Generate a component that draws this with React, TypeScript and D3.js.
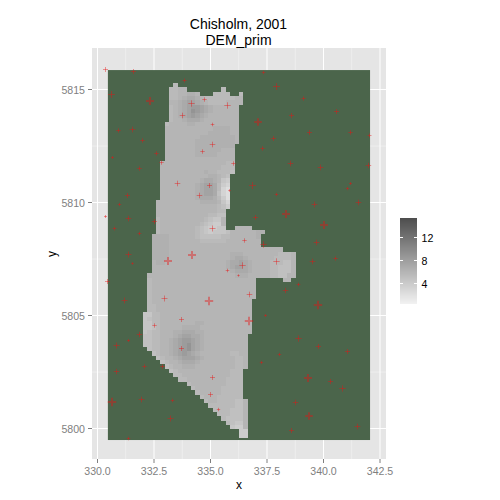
import React from "react";
import * as d3 from "d3";

const titleLines = ["Chisholm, 2001", "DEM_prim"];
const xTicks = [330, 332.5, 335, 337.5, 340, 342.5];
const yTicks = [5800, 5805, 5810, 5815];
const legendTicks = [4, 8, 12];

// raster extent in map units and its grid
const rasterX = [330.46, 342.06];
const rasterY = [5815.86, 5799.49];
const rasterCols = 60;
const rasterRowsCount = 85.5;
const firstRow = 3;
const firstCol = 8;

// [first row, last row, first col, end col] of land cells
const maskRuns = [
  [3, 3, 15, 16], [4, 4, 14, 18], [4, 4, 26, 27], [5, 5, 14, 21], [5, 5, 24, 28], [5, 5, 30, 31],
  [6, 7, 14, 31], [8, 11, 14, 30], [12, 16, 13, 30], [17, 20, 13, 29], [21, 23, 12, 29], [24, 29, 12, 28],
  [30, 31, 11, 28], [32, 35, 11, 27], [36, 36, 11, 27], [36, 36, 29, 33], [37, 37, 11, 36],
  [38, 40, 10, 35], [41, 41, 10, 40], [42, 46, 10, 43], [47, 47, 9, 43], [48, 48, 9, 34], [48, 48, 40, 42],
  [49, 52, 9, 34], [53, 55, 9, 33], [56, 60, 8, 33], [61, 63, 8, 32], [64, 64, 9, 32], [65, 65, 10, 32],
  [66, 66, 11, 32], [67, 67, 12, 32], [68, 68, 13, 32], [69, 69, 14, 31], [70, 70, 15, 31], [71, 71, 16, 31],
  [72, 72, 18, 31], [73, 73, 19, 31], [74, 74, 20, 31], [75, 75, 21, 31], [76, 76, 22, 32], [77, 77, 23, 32],
  [78, 78, 24, 32], [79, 79, 25, 32], [80, 80, 26, 32], [81, 81, 27, 32], [82, 82, 28, 32], [83, 84, 30, 32],
];

// DEM levels, one character per cell, rows from firstRow, columns from firstCol
const levelChars = "0123456789ab";
const levelValues = [2.25, 3.16, 3.88, 4.43, 4.98, 5.52, 5.98, 6.43, 6.98, 7.61, 8.25, 8.98];
const demLevels = [
  "55555555555555555555",
  "5555555566665555555555",
  "55555555667766555555555",
  "55555555678876555555566",
  "55555566789987655556666",
  "55555556789aa987666666655",
  "55555556789ba987666666655",
  "55555556789a98766666666655",
  "55555556678887666666666655",
  "55555566667766666666666655",
  "56666666666666667777666",
  "56666666666666677777666",
  "56666666666667777777766",
  "66666666666677777777766",
  "66666666666677777777766",
  "66666666666677777766655",
  "55666666666677777666655",
  "55666666666666666666655",
  "55566666666666666665555",
  "55566666666666666655555",
  "55566666666666766555444",
  "66666666666666677654",
  "66666666666667887632",
  "66666666666678998521",
  "66666666666678998510",
  "66666666666678998410",
  "66666666666678887520",
  "66666666666667777631",
  "66666666666666666542",
  "6666666666666666655",
  "5566666666666665544",
  "555566666666665433",
  "555566666666654322",
  "555566666666543223366666",
  "5555666666665432333466666677",
  "667777666666544444556666667",
  "667777666666655555566666666",
  "667777666666666666666666666",
  "667777666666666666666666666666666",
  "6677776666666666666677766666666555",
  "6677776666666666666678876666665555",
  "6667766666666666666788987666655544",
  "6666666666666666666789987666655444",
  "6666666666666666666678887666655444",
  "666666666666666666666777666665544",
  "55666666666666666666666666665555",
  "5566666666666666666666666",
  "5566666666666666666666666",
  "5566666666666666666666666",
  "5566666666666666666666666",
  "556666666666666666666666",
  "55566666666666666666666",
  "55566666666666666666666",
  "33556666666666666666666",
  "34556666666666666666666",
  "33556666666677666666666",
  "33456666677776666666666",
  "34556667788877666666666",
  "44556667899887666666666",
  "445566789aa98766666666",
  "445566789ab9876666666",
  "645566789ab98766666666",
  "664566789a987666666655",
  "66645667899987666666655",
  "66664566788876666666655",
  "66666456677766666666655",
  "66666645666666666666555",
  "66666665566666666666555",
  "66666665556666666665555",
  "66666666665666666665555",
  "66666666666566666655555",
  "66666666666656666655555",
  "66666666666665666555555",
  "66666666666666566555544",
  "66666666666666655555544",
  "66666666666666665555444",
  "66666666666666666555444",
  "66666666666666666654444",
  "66666666666666666665433",
  "66666666666666666666322",
  "66666666666666666666662211",
  "66666666666666666666662211",
];

// sample points: easting, northing, marker size
const pointX = [
  330.36, 331.58, 333.86, 330.64, 332.34, 334.17, 334.74, 335.77, 333.75, 337.12, 335.08, 330.94, 331.57, 332.01,
  335.08, 334.66, 332.59, 330.65, 332.85, 336.03, 331.84, 333.53, 334.96, 335.85, 336.87, 331.34, 334.52, 330.96,
  330.35, 331.38, 332.51, 336.98, 335.07, 330.74, 337.34, 337.91, 339.12, 338.59, 340.57, 339.39, 337.77, 341.2,
  342.05, 337.28, 338.52, 339.85, 341.98, 341.19, 341.04, 337.91, 339.58, 341.54, 338.33, 340.02, 331.84, 336.5,
  331.39, 331.54, 333.13, 334.17, 336.41, 335.74, 336.23, 330.45, 332.96, 331.19, 334.93, 336.72, 333.71, 332.53,
  336.69, 331.85, 331.38, 330.83, 333.73, 332.06, 332.89, 330.85, 335.11, 337.35, 339.71, 340.55, 339.51, 337.9,
  338.9, 338.33, 339.76, 337.43, 338.89, 339.8, 341.05, 338.04, 337.27, 339.31, 340.3, 340.84, 335.01, 330.63,
  331.94, 333.31, 335.35, 333.21, 331.38, 338.75, 339.36, 341.5, 338.59,
];
const pointY = [
  5815.89, 5815.81, 5815.39, 5814.79, 5814.48, 5814.39, 5814.55, 5814.3, 5813.86, 5813.55, 5813.43, 5813.18, 5813.24, 5812.75,
  5812.58, 5812.25, 5812.15, 5811.98, 5811.78, 5811.73, 5811.51, 5810.85, 5810.76, 5810.55, 5810.76, 5810.32, 5810.32, 5809.92,
  5809.36, 5809.3, 5809.17, 5809.34, 5808.86, 5808.86, 5815.76, 5815.14, 5814.62, 5813.86, 5814.04, 5813.11, 5812.84, 5813.09,
  5812.97, 5812.37, 5811.73, 5811.56, 5811.65, 5810.85, 5810.63, 5810.36, 5809.92, 5810.01, 5809.48, 5808.99, 5808.62, 5808.34,
  5807.71, 5807.32, 5807.4, 5807.66, 5807.22, 5807, 5806.79, 5806.51, 5805.76, 5805.67, 5805.63, 5805.94, 5804.83, 5804.57,
  5804.74, 5804.17, 5803.9, 5803.68, 5803.55, 5802.76, 5802.75, 5802.53, 5802.27, 5808.15, 5808.24, 5807.53, 5807.4, 5807.4,
  5806.38, 5806.11, 5805.45, 5805.01, 5803.99, 5803.64, 5803.42, 5803.28, 5802.93, 5802.22, 5802.09, 5801.78, 5801.51, 5801.16,
  5801.29, 5801.25, 5800.85, 5800.45, 5799.55, 5801.16, 5800.54, 5800.1, 5799.92,
];
const pointSize = [
  2, 2, 1.5, 3, 3.5, 2.7, 1.7, 2.7, 2.3, 3.3, 1.3, 1.7, 2.3, 1.7,
  2.3, 1.7, 1.7, 1, 1.7, 1.7, 1.7, 2.3, 2, 0.8, 3, 2, 2.3, 1.2,
  1, 2.3, 2, 2, 2.5, 1.5, 1.3, 3, 1.7, 2, 2, 2, 2, 1.7,
  1.5, 1.7, 2.3, 2.3, 2.2, 1, 1.2, 1.2, 2.3, 2.3, 3.5, 3.5, 1.3, 1.7,
  2.5, 0.8, 3.5, 3.5, 2.7, 1.3, 0.7, 2, 2.5, 2.5, 3.7, 2.3, 2, 1.7,
  3.7, 2.2, 1, 2.5, 2, 1.7, 1.7, 2.2, 2, 2.7, 2.3, 1.7, 2.3, 2.7,
  1.3, 2.2, 3.7, 1, 2.7, 2, 2, 1.2, 1.2, 3.5, 2, 2.7, 2, 3.7,
  2.3, 1.3, 1.2, 2.5, 1.3, 2.3, 3.3, 2.3, 2,
];

const valueDomain = [0.43, 15.4];

const FONT = "'Liberation Sans', Arial, sans-serif";
const x = d3.scaleLinear().domain([330, 342.5]).range([97.5, 380]);
const y = d3.scaleLinear().domain([5800, 5815]).range([428.5, 89.5]);
const fill = d3.scaleLinear<string>().domain(valueDomain).range(["#f2f2f2", "#4d4d4d"]);
const legendY = d3.scaleLinear().domain([4, 12]).range([283.5, 237.5]);
const colX = d3.scaleLinear().domain([0, rasterCols]).range(rasterX.map((v) => x(v)));
const rowY = d3.scaleLinear().domain([0, rasterRowsCount]).range(rasterY.map((v) => y(v)));
const panel = { left: 92, right: 386, top: 48, bottom: 459 };

function cellsFromMask() {
  const cells: { r: number; c: number; v: number }[] = [];
  maskRuns.forEach(([r0, r1, c0, c1]) => {
    for (let r = r0; r <= r1; r++) {
      const row = demLevels[r - firstRow] ?? "";
      for (let c = c0; c < c1; c++) {
        const ch = row[c - firstCol] ?? "6";
        cells.push({ r, c, v: levelValues[levelChars.indexOf(ch)] });
      }
    }
  });
  return cells;
}

function minorOf(ticks: number[]) {
  return ticks.slice(1).map((t, i) => (t + ticks[i]) / 2);
}

export default function App() {
  const cells = cellsFromMask();
  const legendSteps = d3.range(218, 304);
  return (
    <svg width={500} height={500} style={{ position: "absolute", left: 0, top: 0 }} fontFamily={FONT}>
      <rect width={500} height={500} fill="#fff" />
      <text x={238.5} y={29} textAnchor="middle" fontSize={14} fill="#000">{titleLines[0]}</text>
      <text x={238.5} y={45} textAnchor="middle" fontSize={14} fill="#000">{titleLines[1]}</text>
      <rect x={panel.left} y={panel.top} width={panel.right - panel.left} height={panel.bottom - panel.top} fill="#e5e5e5" />
      {minorOf(xTicks).map((t) => (
        <line key={t} x1={x(t)} x2={x(t)} y1={panel.top} y2={panel.bottom} stroke="#f2f2f2" strokeWidth={0.7} />
      ))}
      {minorOf(yTicks).map((t) => (
        <line key={t} y1={y(t)} y2={y(t)} x1={panel.left} x2={panel.right} stroke="#f2f2f2" strokeWidth={0.7} />
      ))}
      {xTicks.map((t) => (
        <line key={t} x1={x(t)} x2={x(t)} y1={panel.top} y2={panel.bottom} stroke="#fff" strokeWidth={1} />
      ))}
      {yTicks.map((t) => (
        <line key={t} y1={y(t)} y2={y(t)} x1={panel.left} x2={panel.right} stroke="#fff" strokeWidth={1} />
      ))}
      <rect x={x(rasterX[0])} y={y(rasterY[0])} width={x(rasterX[1]) - x(rasterX[0])} height={y(rasterY[1]) - y(rasterY[0])} fill="#4b654b" />
      <g shapeRendering="crispEdges">
        {cells.map((d, i) => (
          <rect
            key={i}
            x={Math.round(colX(d.c))}
            y={Math.round(rowY(d.r))}
            width={Math.round(colX(d.c + 1)) - Math.round(colX(d.c))}
            height={Math.round(rowY(d.r + 1)) - Math.round(rowY(d.r))}
            fill={fill(d.v)}
          />
        ))}
      </g>
      <g stroke="#e81414" strokeOpacity={0.42} fill="none">
        {pointX.map((px, i) => {
          const s = pointSize[i];
          const thick = s > 3.2;
          const cx = thick ? Math.round(x(px)) : Math.floor(x(px)) + 0.5;
          const cy = thick ? Math.round(y(pointY[i])) : Math.floor(y(pointY[i])) + 0.5;
          return (
            <path
              key={i}
              d={`M${cx - s - 0.5},${cy}H${cx + s + 0.5}M${cx},${cy - s - 0.5}V${cy + s + 0.5}`}
              strokeWidth={thick ? 2 : 1}
            />
          );
        })}
      </g>
      {xTicks.map((t) => (
        <g key={t}>
          <line x1={x(t)} x2={x(t)} y1={panel.bottom} y2={panel.bottom + 4} stroke="#7f7f7f" />
          <text x={x(t)} y={475} textAnchor="middle" fontSize={10.6} fill="#7f7f7f">{d3.format(".1f")(t)}</text>
        </g>
      ))}
      {yTicks.map((t) => (
        <g key={t}>
          <line y1={y(t)} y2={y(t)} x1={panel.left - 4} x2={panel.left} stroke="#7f7f7f" />
          <text x={85} y={y(t) + 4} textAnchor="end" fontSize={10.6} fill="#7f7f7f">{t}</text>
        </g>
      ))}
      <text x={239} y={489} textAnchor="middle" fontSize={12} fill="#000">x</text>
      <text transform={`translate(56,254) rotate(-90)`} textAnchor="middle" fontSize={12} fill="#000">y</text>
      <g shapeRendering="crispEdges">
        {legendSteps.map((py) => (
          <rect key={py} x={400} y={py} width={17} height={1} fill={fill(legendY.invert(py + 0.5))} />
        ))}
      </g>
      {legendTicks.map((t) => (
        <g key={t}>
          <line x1={400} x2={403} y1={legendY(t)} y2={legendY(t)} stroke="#fff" />
          <line x1={414} x2={417} y1={legendY(t)} y2={legendY(t)} stroke="#fff" />
          <text x={421.5} y={legendY(t) + 4} fontSize={10.6} fill="#000">{t}</text>
        </g>
      ))}
    </svg>
  );
}
